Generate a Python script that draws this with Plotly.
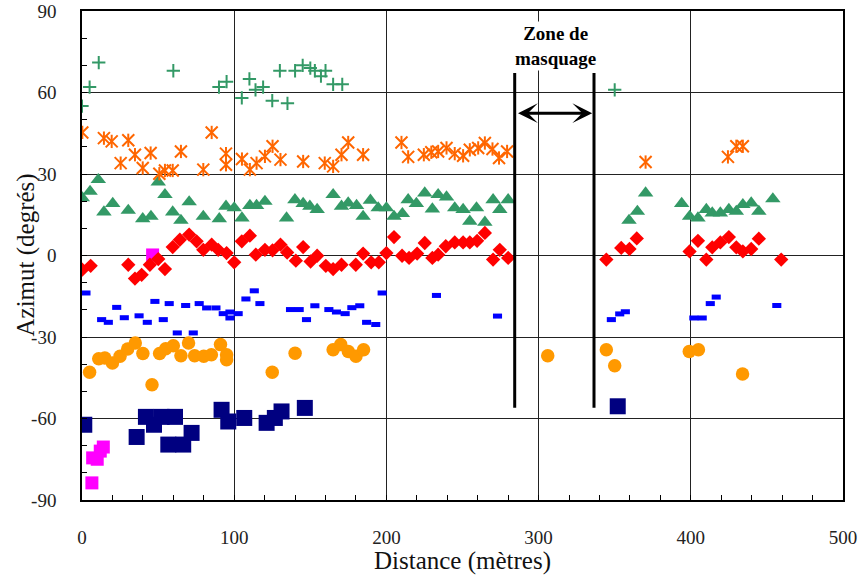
import plotly.graph_objects as go

# ---------------- data ----------------
plus_x = [0, 5, 11, 60, 90, 95, 105, 110, 114, 119, 125, 130, 135, 140, 145, 150, 153, 157, 160, 165, 171, 350]
plus_y = [55, 62, 71, 68, 62, 64, 58, 65, 61, 62, 57, 68, 56, 68, 70, 69, 68, 66, 68, 63, 63, 61]

star_x = [0.2, 14.4, 19.5, 30.4, 25.4, 34.8, 39.9, 45.1, 50.8, 54.5, 59.6, 65, 79.7, 85.2, 94.6, 94.6,
          105.1, 110.3, 114.7, 120.2, 125.2, 130.4, 145.3, 159.5, 165, 170.5, 174.9, 184.7,
          209.9, 214.3, 224.6, 229.5, 234, 239.5, 244.9, 250.4, 254.8, 260.3, 264.7, 269.7, 274, 279.3,
          370.3, 424.4, 429.9, 434.2]
star_y = [45.3, 43.2, 42.0, 42.4, 34.0, 37.1, 32.2, 37.7, 30.1, 31.3, 31.3, 38.3, 31.6, 45.3, 37.5, 33.4,
          35.5, 31.6, 34.0, 36.5, 40.2, 35.3, 34.6, 34.0, 32.8, 37.1, 41.6, 37.1,
          41.6, 36.3, 37.1, 38.0, 38.3, 39.6, 37.5, 36.7, 38.9, 39.6, 41.4, 39.2, 35.9, 38.3,
          34.4, 36.3, 40.2, 40.2]

tri_x = [0.2, 5.3, 10.7, 14.4, 20.2, 30.4, 39.9, 45.3, 50.1, 54.5, 59.6, 65, 70.4, 79.7, 90.2, 94.6,
         100, 105.1, 110.3, 114.7, 120.2, 134.4, 139.9, 145.3, 149.7, 154.5, 165, 170.5, 174.9, 180.4,
         184.7, 189.5, 194.6, 200, 205, 210.5, 214.3, 219.7, 225.2, 230.2, 234, 239.5, 244.9, 250.4,
         254.8, 259.2, 264.7, 270.1, 274.5, 280, 359.4, 364.9, 370.3, 394, 399.2, 404.7, 410.2, 414.1,
         419.4, 425, 429.9, 434.2, 439.7, 444.7, 453.9]
tri_y = [21.2, 23.6, 27.9, 16.0, 19.1, 16.6, 13.5, 14.4, 27.0, 22.4, 16.0, 12.9, 19.7, 14.4, 13.5, 18.1,
         17.5, 13.8, 18.4, 18.4, 19.9, 13.8, 20.5, 19.1, 18.1, 16.9, 22.4, 18.1, 19.3, 18.4,
         14.4, 20.3, 17.5, 17.5, 14.4, 15.4, 20.5, 19.1, 23.0, 17.1, 22.4, 21.5, 17.5, 16.9,
         12.6, 17.5, 12.2, 20.5, 16.9, 20.5, 12.9, 16.2, 23.0, 19.1, 14.4, 13.8, 16.9, 15.6,
         15.6, 16.9, 16.2, 18.7, 19.3, 16.2, 20.8]

dia_x = [0.2, 5.7, 30.4, 34.8, 39.2, 44.6, 50.1, 54.5, 59.6, 64.3, 70.4, 75.3, 79.7, 85.2, 89.5, 95,
         100, 105, 110.3, 114.2, 120.2, 125.2, 130.4, 134.8, 140.5, 145.3, 150.2, 154.5, 160.2, 165,
         170.5, 179.9, 184.7, 190, 195, 200, 205, 210.3, 214.9, 220.2, 225.2, 230.2, 234, 239,
         244.9, 250.4, 254.8, 259.6, 264.7, 270.1, 274.5, 280, 344.5, 354.3, 359.7, 364.5,
         399.2, 404.7, 410.2, 414.1, 419.4, 425, 429.9, 434.2, 439.7, 444.7, 459.4]
dia_y = [-5.2, -3.8, -3.4, -8.5, -7.1, -3.4, -1.3, -5.0, 3.1, 5.8, 7.7, 5.2, 2.1, 4.0, 2.1, 0.9,
         -2.5, 5.2, 7.3, 0.3, 2.1, 1.9, 4.0, 1.1, -1.9, 3.1, -2.2, -0.1, -3.8, -5.0,
         -3.4, -3.4, 0.7, -2.5, -2.5, 0.9, 6.8, -0.1, -0.9, 0.7, 4.6, -0.9, 0.3, 3.4,
         4.8, 4.8, 4.8, 5.4, 8.3, -1.5, 2.1, -0.9, -1.5, 2.8, 2.4, 6.3,
         1.5, 5.4, -1.5, 3.0, 4.8, 6.8, 3.0, 1.5, 2.4, 6.2, -1.5]

mag_x = [46.4, 6.5, 7, 10, 12, 14]
mag_y = [0.2, -83.7, -74.5, -75, -72, -70.5]

dash_x = [2.6, 12.9, 17.3, 22.8, 27.8, 37.5, 42.9, 47.9, 53.4, 57.3, 62.6, 68.1, 73.1, 77, 81.9, 88,
          92.8, 97.2, 97.2, 102.6, 107.7, 113.2, 116.9, 137, 142.7, 147.5, 153, 162.2, 167.2, 172.9,
          177.3, 182.5, 187, 193, 197.2, 232.9, 273, 347.8, 353.3, 357, 402, 407.5, 412.8, 416.7, 456.5]
dash_y = [-13.8, -23.6, -24.6, -19.1, -22.9, -22.2, -24.6, -16.9, -23.6, -17.7, -28.5, -18.4, -28.5, -17.7, -19.3, -19.3,
          -21.4, -20.8, -23.0, -21.4, -16.0, -13.0, -17.7, -19.9, -19.9, -23.6, -18.5, -19.9, -20.8, -21.4,
          -19.2, -18.5, -24.6, -25.4, -13.8, -14.7, -22.3, -23.6, -21.5, -20.7, -23.0, -23.0, -17.7, -15.3, -18.4]

circ_x = [5, 11, 15, 20, 25, 30, 35, 40, 46, 51, 55, 60, 65, 70, 74, 80, 85, 91, 95, 95, 125, 140,
          165, 170, 175, 180, 185, 306, 344.5, 350, 399, 405, 434]
circ_y = [-43, -38, -37.7, -39.6, -37.1, -34.4, -32.2, -36.1, -47.6, -36.1, -34.3, -33.2, -36.9, -32.2, -36.9,
          -37.1, -36.5, -32.8, -36.5, -38.4, -43, -36, -34.7, -32.8, -35.3, -37.1, -34.7, -36.9,
          -34.7, -40.6, -35.3, -34.7, -43.6]

navy_x = [1.5, 35.9, 42, 47.3, 52.3, 61.1, 56.7, 66.5, 72, 91.7, 96.1, 106.6, 121.3, 126.7, 131.1, 146.4, 352]
navy_y = [-62.3, -66.8, -59.4, -62.3, -59.4, -59.4, -69.6, -69.6, -65.3, -56.8, -61.1, -59.8, -61.6, -59.8, -57.4, -56.1, -55.5]

x_ticks = [0, 100, 200, 300, 400, 500]
y_ticks = [-90, -60, -30, 0, 30, 60, 90]

zone_start, zone_end = 284.3, 336.4
zone_bottom, zone_top = -56, 67.2
arrow_y = 52.4
zone_label = "<b>Zone de<br>masquage</b>"

# ---------------- figure ----------------
SERIF = "Liberation Serif"
W, H = 863, 575
ML, MR, MT, MB = 82, 20, 11, 75
fig = go.Figure()

def add(x, y, symbol, size, color, line_width=0, line_color=None):
    fig.add_trace(go.Scatter(
        x=x, y=y, mode="markers", showlegend=False, hoverinfo="skip",
        marker=dict(symbol=symbol, size=size, color=color,
                    line=dict(width=line_width, color=line_color or color))))

add(mag_x, mag_y, "square", 13, "#FF00FF")
add(navy_x, navy_y, "square", 16, "#000080")
add(circ_x, circ_y, "circle", 13.5, "#FF9900")
add(dash_x, dash_y, "line-ew", 6.5, "#0000FF", 5, "#0000FF")
add(dia_x, dia_y, "diamond", 11, "#FF0000")
add(tri_x, tri_y, "triangle-up", 13.5, "#339966")
add(star_x, star_y, "x-thin", 12, "#FF6600", 2, "#FF6600")
add(star_x, star_y, "line-ns", 9.5, "#FF6600", 2, "#FF6600")
add(plus_x, plus_y, "cross-thin", 9.5, "#339966", 2, "#339966")

# zone de masquage
for xv in (zone_start, zone_end):
    fig.add_shape(type="line", x0=xv, x1=xv, y0=zone_bottom, y1=zone_top,
                  xref="x", yref="y", line=dict(color="black", width=3))

fig.add_annotation(x=zone_end - 1.2, y=arrow_y, ax=zone_start + 1.2, ay=arrow_y,
                   xref="x", yref="y", axref="x", ayref="y", text="",
                   showarrow=True, arrowside="end+start", arrowhead=3, startarrowhead=3,
                   arrowsize=1.1, startarrowsize=1.1, arrowwidth=3, arrowcolor="black")

fig.add_annotation(x=(zone_start + zone_end) / 2 + 0.5, y=77.2, xref="x", yref="y",
                   text=zone_label, showarrow=False, bgcolor="white",
                   font=dict(family=SERIF, size=19, color="black"), align="center",
                   yanchor="middle")

# y axis title as a rotated annotation (centre at ~25 px from the left edge)
plot_w = W - ML - MR
fig.add_annotation(x=(25 - ML) / plot_w, y=0.5, xref="paper", yref="paper",
                   text="Azimut (degrés)", textangle=-90, showarrow=False,
                   xanchor="center", yanchor="middle",
                   font=dict(family=SERIF, size=25, color="#111111"))

axis_common = dict(showline=True, linecolor="black", linewidth=1.5, mirror=True,
                   showgrid=True, gridcolor="#222222", gridwidth=1, zeroline=False,
                   ticks="inside", ticklen=5, tickcolor="black", automargin=False,
                   tickfont=dict(family=SERIF, size=19, color="#222222"))

fig.update_xaxes(range=[0, 500], tickvals=x_ticks, ticktext=[str(v) for v in x_ticks],
                 minor=dict(dtick=20, ticks="inside", ticklen=5, tickcolor="black", showgrid=False),
                 ticklabelstandoff=19,
                 title=dict(text="Distance (mètres)", font=dict(family=SERIF, size=25, color="#111111"), standoff=5),
                 **axis_common)
fig.update_yaxes(range=[-90, 90], tickvals=y_ticks, ticktext=[str(v) for v in y_ticks],
                 minor=dict(dtick=10, ticks="inside", ticklen=5, tickcolor="black", showgrid=False),
                 ticklabelstandoff=20,
                 **axis_common)

fig.update_layout(width=W, height=H, margin=dict(l=ML, r=MR, t=MT, b=MB),
                  plot_bgcolor="white", paper_bgcolor="white")

fig.write_html("out.html", config={"displayModeBar": False},
               post_script="document.body.style.margin='0';document.body.style.padding='0';")
